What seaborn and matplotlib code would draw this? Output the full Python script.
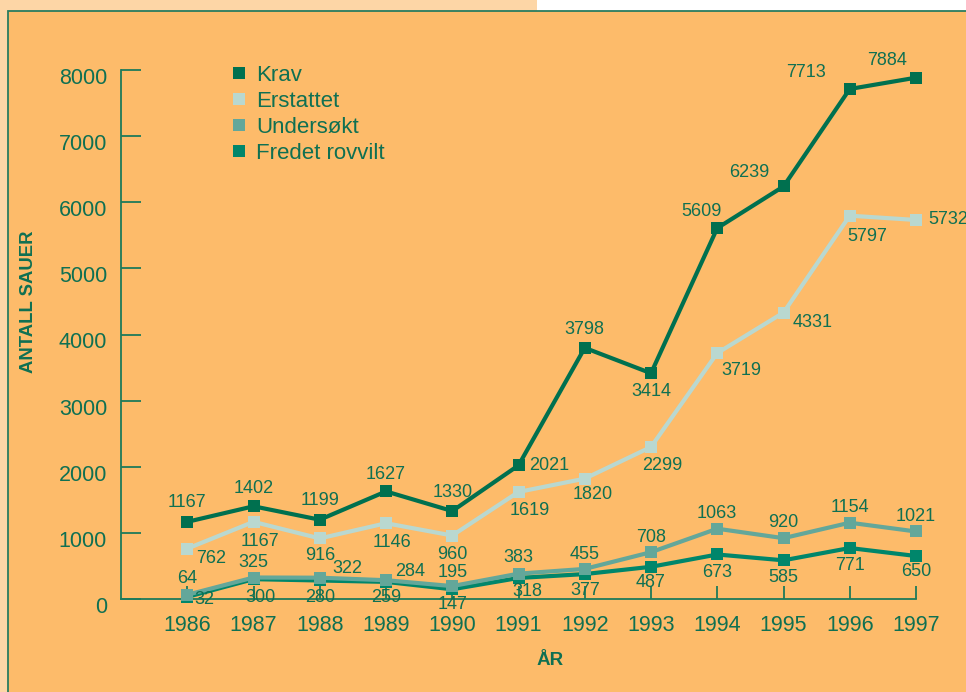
import matplotlib
matplotlib.use("Agg")
import matplotlib.pyplot as plt
from matplotlib.patches import Rectangle
from matplotlib.lines import Line2D
from matplotlib.transforms import ScaledTranslation
import seaborn as sns
import pandas as pd

# Sheep losses per year
years = [1986, 1987, 1988, 1989, 1990, 1991, 1992, 1993, 1994, 1995, 1996, 1997]
krav = [1167, 1402, 1199, 1627, 1330, 2021, 3798, 3414, 5609, 6239, 7713, 7884]
erstattet = [762, 1167, 916, 1146, 960, 1619, 1820, 2299, 3719, 4331, 5797, 5732]
undersokt = [64, 325, 322, 284, 195, 383, 455, 708, 1063, 920, 1154, 1021]
fredet_rovvilt = [32, 300, 280, 259, 147, 318, 377, 487, 673, 585, 771, 650]
series_names = ["Krav", "Erstattet", "Undersøkt", "Fredet rovvilt"]
y_ticks = [0, 1000, 2000, 3000, 4000, 5000, 6000, 7000, 8000]

values = {
    "Krav": krav,
    "Erstattet": erstattet,
    "Undersøkt": undersokt,
    "Fredet rovvilt": fredet_rovvilt,
}
df = pd.DataFrame(
    [(name, y, v) for name in series_names for y, v in zip(years, values[name])],
    columns=["Serie", "År", "Antall"],
)

colors = {
    "Krav": "#00704f",
    "Erstattet": "#b9d8d0",
    "Undersøkt": "#63a79a",
    "Fredet rovvilt": "#00866b",
}
# value-label offsets (pixels) from each marker
label_offsets = {
    "Krav": [(0, 19), (0, 18), (0, 19), (0, 17), (0, 19), (31, 0),
             (0, 18), (0, -18), (-16, 17), (-34, 14), (-44, 16), (-29, 17)],
    "Erstattet": [(24, -10), (6, -20), (0, -17), (6, -19), (0, -19), (11, -19),
                  (8, -16), (11, -19), (24, -17), (29, -10), (17, -21), (32, 0)],
    "Undersøkt": [(0, 16), (0, 15), (28, 9), (24, 9), (0, 14), (0, 16),
                  (0, 14), (0, 15), (0, 15), (0, 16), (0, 15), (0, 15)],
    "Fredet rovvilt": [(17, -3), (7, -18), (0, -17), (0, -16), (0, -15), (9, -14),
                       (0, -16), (0, -16), (0, -18), (0, -17), (0, -17), (0, -15)],
}

sns.set_style("white")
plt.rcParams["font.family"] = ["Liberation Sans", "DejaVu Sans"]

W, H = 966, 692
fig = plt.figure(figsize=(W / 100, H / 100), dpi=100)
fig.patch.set_facecolor("white")

text_color = "#0f7052"
axis_color = "#1e7a5a"
orange = "#fdbb6a"
peach = "#fdd6a6"

# page background and frame
fig.add_artist(Rectangle((0, 1 - 11 / H), 537 / W, 11 / H, transform=fig.transFigure,
                         facecolor=peach, edgecolor="none", zorder=-2))
fig.add_artist(Rectangle((0, 0), 8 / W, 1, transform=fig.transFigure,
                         facecolor=peach, edgecolor="none", zorder=-2))
fig.add_artist(Rectangle((7.5 / W, -0.01), 1, 1 - 11 / H + 0.01, transform=fig.transFigure,
                         facecolor=orange, edgecolor="#2a7c5f", linewidth=1.3, zorder=-1))

ax = fig.add_axes([121 / W, (H - 599) / H, (916 - 121) / W, (599 - 70) / H])
ax.set_facecolor("none")
ax.set_zorder(2)

draw_order = ["Krav", "Erstattet", "Fredet rovvilt", "Undersøkt"]
for name in draw_order:
    sub = df[df["Serie"] == name]
    sns.lineplot(data=sub, x="År", y="Antall", ax=ax, color=colors[name],
                 linewidth=3.0, marker="s", markersize=9, markeredgewidth=0,
                 clip_on=False, legend=False, zorder=3)

for name in draw_order:
    for x, v, (dx, dy) in zip(years, values[name], label_offsets[name]):
        ax.annotate(str(v), (x, v), xytext=(dx, dy), textcoords="offset pixels",
                    ha="center", va="center", fontsize=13, color=text_color,
                    zorder=5, annotation_clip=False)

ax.set_xlim(1985, 1997)
ax.set_ylim(0, 8000)
ax.set_xticks(years)
ax.set_xticklabels([str(y) for y in years])
ax.set_yticks(y_ticks)
ax.set_yticklabels([str(t) for t in y_ticks])

for side in ["top", "right"]:
    ax.spines[side].set_visible(False)
for side in ["left", "bottom"]:
    ax.spines[side].set_color(axis_color)
    ax.spines[side].set_linewidth(1.3)

ax.tick_params(axis="x", bottom=True, direction="in", length=9.5, width=1.3,
               color=axis_color, labelsize=15.5, labelcolor=text_color, pad=11.5)
ax.tick_params(axis="y", left=True, direction="in", length=14.5, width=1.3,
               color=axis_color, labelsize=15.5, labelcolor=text_color, pad=10)
for tick in ax.yaxis.get_major_ticks():
    tick.label1.set_transform(tick.label1.get_transform()
                              + ScaledTranslation(0, -6 / 100, fig.dpi_scale_trans))

ax.set_xlabel("ÅR", fontsize=13.5, fontweight="bold", color=text_color)
ax.set_ylabel("ANTALL SAUER", fontsize=13.3, fontweight="bold", color=text_color)
ax.xaxis.set_label_coords((550 - 121) / (916 - 121), -(652 - 599) / (599 - 70))
ax.yaxis.set_label_coords((37 - 121) / (916 - 121), (599 - 302) / (599 - 70))

handles = [Line2D([], [], linestyle="none", marker="s", markersize=9,
                  markeredgewidth=0, color=colors[n], label=n) for n in series_names]
leg = ax.legend(handles=handles, loc="upper left",
                bbox_to_anchor=(232 / W, 1 - 65 / H), bbox_transform=fig.transFigure,
                frameon=False, fontsize=16, handlelength=0.6, handletextpad=0.5,
                labelspacing=0.22, borderaxespad=0, borderpad=0)
for t in leg.get_texts():
    t.set_color(text_color)

fig.savefig("out.png", dpi=100)
